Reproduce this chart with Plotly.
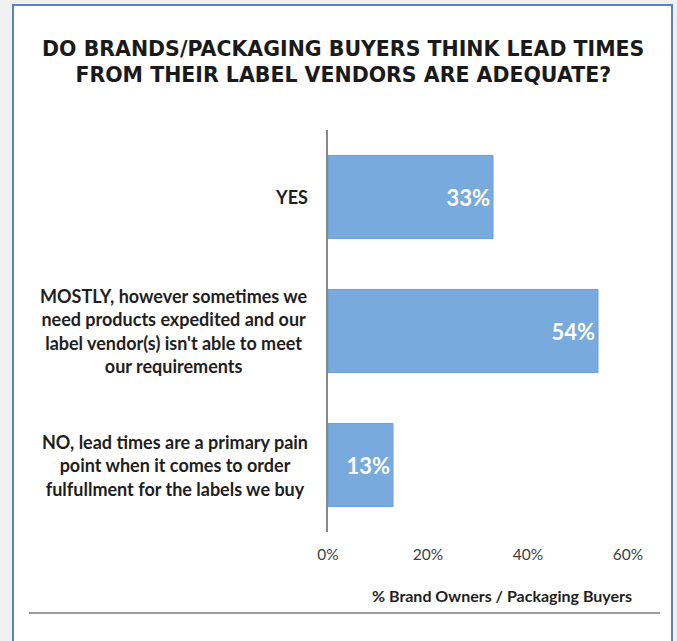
import plotly.graph_objects as go

# Survey answers (top to bottom) and share of respondents, in percent
categories = [
    "YES",
    "MOSTLY, however sometimes we<br>need products expedited and our<br>label vendor(s) isn't able to meet<br>our requirements",
    "NO, lead times are a primary pain<br>point when it comes to order<br>fulfullment for the labels we buy",
]
shares = [33, 54, 13]
tick_values = [0, 20, 40, 60]
tick_labels = ["0%", "20%", "40%", "60%"]

title_text = ("DO BRANDS/PACKAGING BUYERS THINK LEAD TIMES<br>"
              "FROM THEIR LABEL VENDORS ARE ADEQUATE?")
axis_title = "% Brand Owners / Packaging Buyers"

W, H = 677, 641
L, R, T, B = 328, 49, 130, 109
plot_w = W - L - R
plot_h = H - T - B


def px_x(px):
    return (px - L) / plot_w


def px_y(py):
    return (H - B - py) / plot_h


fig = go.Figure(
    go.Bar(
        y=categories,
        x=shares,
        orientation="h",
        marker=dict(color="#78aadd", line=dict(color="#6a9fda", width=1)),
        text=[f"{v}%" for v in shares],
        textposition="inside",
        insidetextanchor="end",
        textfont=dict(family="Lato", size=22, color="white", weight="bold"),
        cliponaxis=False,
        hoverinfo="skip",
    )
)

# Category labels: centred multi-line blocks right-aligned to the axis
for cat in categories:
    fig.add_annotation(
        x=px_x(310), xref="paper", xanchor="right",
        y=cat, yref="y", yanchor="middle",
        text=cat, showarrow=False, align="center",
        font=dict(family="Lato", size=18, color="#1e1e1e", weight="bold"),
    )

fig.add_annotation(
    x=px_x(634), xref="paper", xanchor="right",
    y=px_y(595), yref="paper", yanchor="middle",
    text=axis_title, showarrow=False,
    font=dict(family="Lato", size=16, color="#1e1e1e", weight="bold"),
)

# Page frame and footer rule
fig.add_shape(
    type="rect", xref="paper", yref="paper", layer="below",
    x0=px_x(13), x1=px_x(672), y0=px_y(660), y1=px_y(5),
    fillcolor="white", line=dict(color="#5a80c8", width=2),
)
fig.add_shape(
    type="line", xref="paper", yref="paper", layer="below",
    x0=px_x(29), x1=px_x(660), y0=px_y(613), y1=px_y(613),
    line=dict(color="#9a9a9a", width=2),
)

fig.update_layout(
    width=W, height=H,
    margin=dict(l=L, r=R, t=T, b=B, pad=0),
    paper_bgcolor="#f1f1f1",
    plot_bgcolor="rgba(0,0,0,0)",
    bargap=0.38,
    showlegend=False,
    title=dict(
        text=title_text,
        x=0.507, xref="container", xanchor="center",
        y=1 - 55.5 / H, yref="container", yanchor="middle",
        font=dict(family="DejaVu Sans", size=20.5, color="#1a1a1a", weight="bold"),
    ),
    xaxis=dict(
        range=[0, 60],
        tickvals=tick_values, ticktext=tick_labels,
        showgrid=False, zeroline=False, showline=False,
        ticks="", ticklabelstandoff=11,
        tickfont=dict(family="Lato", size=15.5, color="#404040"),
    ),
    yaxis=dict(
        categoryorder="array", categoryarray=categories,
        autorange="reversed",
        showticklabels=False, ticks="",
        showgrid=False, zeroline=False,
        showline=True, linecolor="#888888", linewidth=2,
    ),
)

fig.write_html("out.html")
